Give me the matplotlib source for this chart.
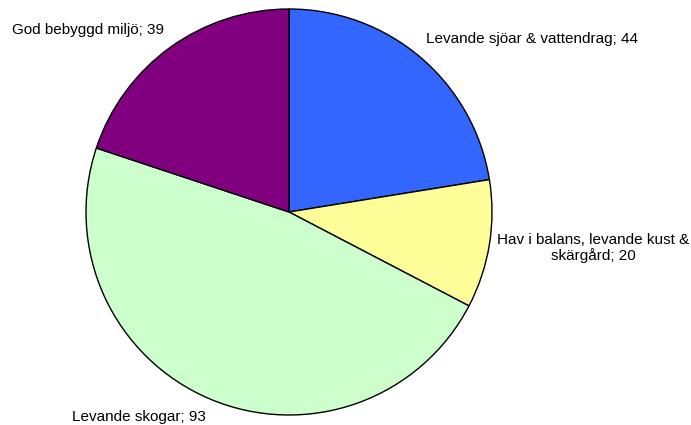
import matplotlib
matplotlib.use("Agg")
import matplotlib.pyplot as plt

labels = ["Levande sjöar & vattendrag", "Hav i balans, levande kust &\nskärgård",
          "Levande skogar", "God bebyggd miljö"]
values = [44, 20, 93, 39]
colors = ["#3366FF", "#FFFF99", "#CCFFCC", "#800080"]

W, H = 691, 425
cx, cy, R = 289, 212, 203

fig = plt.figure(figsize=(W / 100, H / 100), dpi=100)
ax = fig.add_axes([0, 0, 1, 1])
ax.pie(values, colors=colors, startangle=90, counterclock=False, radius=1,
       wedgeprops=dict(edgecolor="black", linewidth=1.0))
ax.set_xlim(-cx / R, (W - cx) / R)
ax.set_ylim(-(H - cy) / R, cy / R)
ax.set_aspect("equal")
ax.axis("off")

def px(x, y):
    return (x - cx) / R, (cy - y) / R

# label positions (pixel coords)
pos = [(426, 39, "left"), (593, 248, "center"), (72, 417, "left"), (12, 30, "left")]
for (x, y, ha), lab, v in zip(pos, labels, values):
    dx, dy = px(x, y)
    ax.text(dx, dy, f"{lab}; {v}", ha=ha, va="center", fontsize=11,
            family="Liberation Sans", multialignment="center", linespacing=1.15)

fig.savefig("out.png", dpi=100)
